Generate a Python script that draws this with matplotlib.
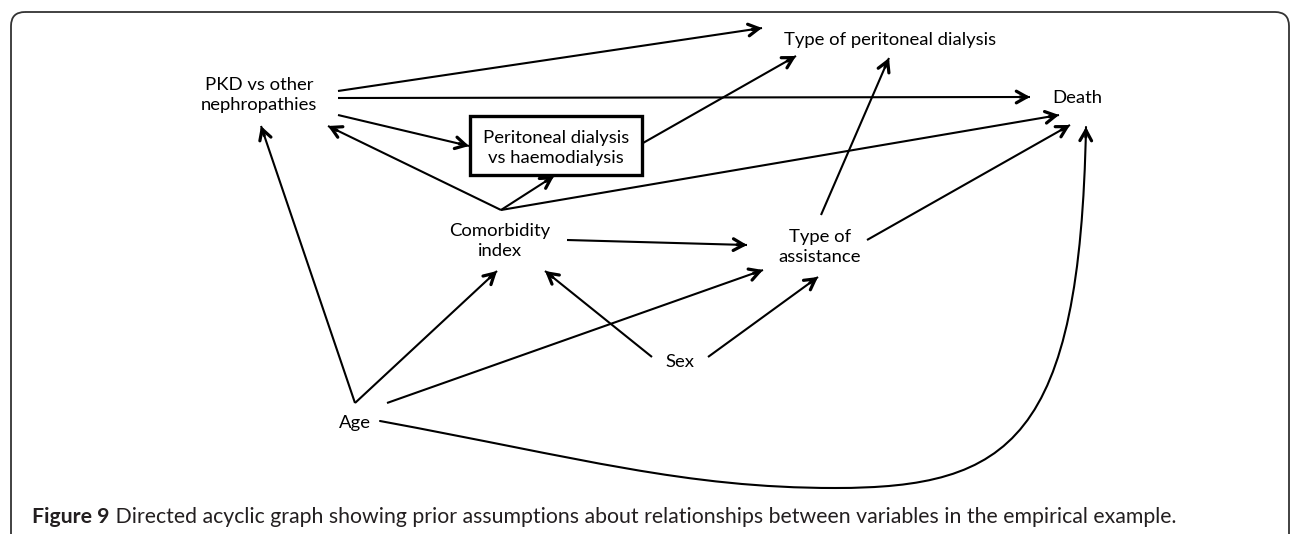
import matplotlib
matplotlib.use("Agg")
import matplotlib.pyplot as plt
import numpy as np
from matplotlib.patches import FancyArrowPatch, FancyBboxPatch, Rectangle
from matplotlib.path import Path

W, H = 1292, 534

# node labels and their centres (pixel space of the original figure)
node_names = ["pkd", "typepd", "death", "pdhd", "comorb", "assist", "sex", "age"]
node_labels = ["PKD vs other\nnephropathies", "Type of peritoneal dialysis", "Death",
               "Peritoneal dialysis\nvs haemodialysis", "Comorbidity\nindex",
               "Type of\nassistance", "Sex", "Age"]
node_x = [259, 890, 1077, 556, 500, 820, 680, 355]
node_y = [95, 40, 98, 148, 241, 247, 362, 423]
boxed = ["pdhd"]
box_extent = (470, 116, 642, 175)

# edges: source, target, where the line leaves and where the head lands
edge_src = ["pkd", "pkd", "pkd", "comorb", "comorb", "comorb", "pdhd", "comorb",
            "assist", "assist", "age", "age", "age", "sex", "sex"]
edge_dst = ["typepd", "death", "pdhd", "pkd", "pdhd", "death", "typepd", "assist",
            "typepd", "death", "pkd", "comorb", "assist", "comorb", "assist"]
edge_start = [(338, 91), (338, 98), (338, 115), (501, 210), (501, 210), (501, 210),
              (643, 143), (567, 240), (821, 215), (867, 240), (355, 403), (355, 403),
              (387, 403), (652, 357), (708, 357)]
edge_end = [(762, 28), (1030, 97), (469, 146), (328, 126), (554, 176), (1059, 115),
            (796, 56), (747, 245), (889, 58), (1070, 125), (261, 126), (497, 271),
            (763, 270), (545, 271), (818, 277)]

# the curved Age -> Death edge, as two cubic bezier pieces
curve_pts = [(380, 421), (580, 458), (685, 488), (835, 488),
             (1010, 488), (1080, 440), (1086, 127)]

caption_bold = "Figure 9"
caption_rest = (" Directed acyclic graph showing prior assumptions about relationships "
                "between variables in the empirical example.")

fig = plt.figure(figsize=(W / 100, H / 100), dpi=100)
ax = fig.add_axes([0, 0, 1, 1])
ax.set_xlim(0, W)
ax.set_ylim(H, 0)
ax.axis("off")

# outer frame, open at the bottom
frame = FancyBboxPatch((11, 12), 1278, 560, boxstyle="round,pad=0,rounding_size=14",
                       fc="none", ec="#333333", lw=1.3)
ax.add_patch(frame)

font = "Lato"
for name, lab, x, y in zip(node_names, node_labels, node_x, node_y):
    ax.text(x, y, lab, ha="center", va="center", fontsize=13.3, family=font,
            color="black", linespacing=1.25, multialignment="center")

x0, y0, x1, y1 = box_extent
ax.add_patch(Rectangle((x0, y0), x1 - x0, y1 - y0, fc="none", ec="black", lw=2.4))


def head(p_from, p_to):
    d = np.array(p_to, float) - np.array(p_from, float)
    d = d / np.hypot(*d)
    base = np.array(p_to) - d * 10
    ax.add_patch(FancyArrowPatch(tuple(base), p_to,
                                 arrowstyle="->,head_length=7.5,head_width=4.2",
                                 mutation_scale=1, lw=2.3, color="black",
                                 shrinkA=0, shrinkB=0))


for s, e in zip(edge_start, edge_end):
    ax.plot([s[0], e[0]], [s[1], e[1]], color="black", lw=1.5, solid_capstyle="butt")
    head(s, e)

codes = [Path.MOVETO] + [Path.CURVE4] * 6
ax.add_patch(FancyArrowPatch(path=Path(curve_pts, codes), arrowstyle="-",
                             lw=1.5, color="black"))
head(curve_pts[-2], curve_pts[-1])

# caption: bold lead-in followed by regular text
r = fig.canvas.get_renderer()
t1 = ax.text(32, 517, caption_bold, ha="left", va="center", fontsize=15.3,
             fontweight="bold", family=font, color="#231f20")
bb = t1.get_window_extent(renderer=r)
x_next = ax.transData.inverted().transform((bb.x1, bb.y0))[0]
ax.text(x_next, 517, caption_rest, ha="left", va="center", fontsize=15.3,
        family=font, color="#231f20")

fig.savefig("out.png", dpi=100)
